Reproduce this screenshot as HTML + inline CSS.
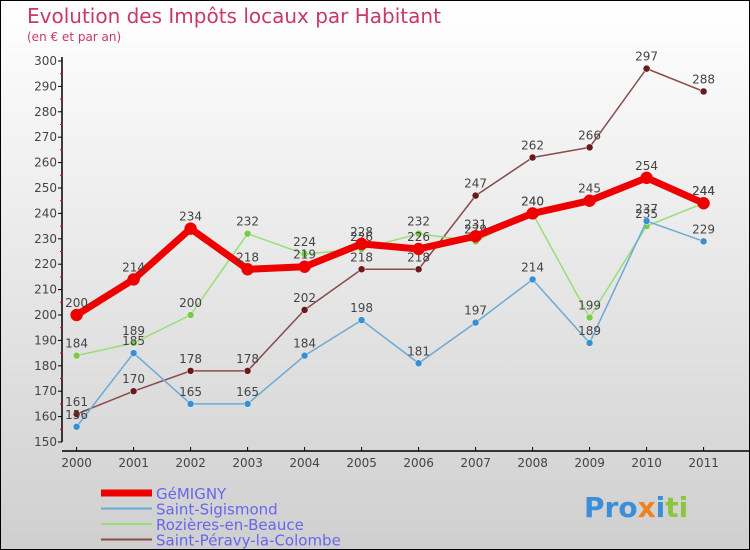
<!DOCTYPE html>
<html><head><meta charset="utf-8"><style>
body{margin:0}
#c{width:750px;height:550px;position:relative;box-sizing:border-box;border:1px solid #000;background:linear-gradient(#ffffff,#cfcfcf);font-family:"DejaVu Sans","Liberation Sans",sans-serif;overflow:hidden}
svg text{font-family:"DejaVu Sans","Liberation Sans",sans-serif}
</style></head><body>
<div id="c">
<svg id="s" width="750" height="550">
<text x="26" y="22" font-size="20" fill="#c8386a">Evolution des Impôts locaux par Habitant</text>
<text x="26" y="40" font-size="12" fill="#c8386a">(en € et par an)</text>
<g id="axes"></g><g id="series"></g><g id="legend"></g>
<text x="583" y="516" font-size="28" font-weight="bold"><tspan fill="#3a8fd8">Pro</tspan><tspan fill="#f08020">x</tspan><tspan fill="#3a8fd8">i</tspan><tspan fill="#8cc63f">ti</tspan></text>
</svg></div>
<script>
const years=[2000,2001,2002,2003,2004,2005,2006,2007,2008,2009,2010,2011];
const yTicks=[150,160,170,180,190,200,210,220,230,240,250,260,270,280,290,300];
const gemigny=[200,214,234,218,219,228,226,231,240,245,254,244];
const sigismond=[156,185,165,165,184,198,181,197,214,189,237,229];
const rozieres=[184,189,200,232,224,226,232,229,240,199,235,244];
const peravy=[161,170,178,178,202,218,218,247,262,266,297,288];
const NS="http://www.w3.org/2000/svg";
const xs=i=>75.6+i*57, ys=v=>60+(300-v)*2.54;
function mk(t,a,p){const e=document.createElementNS(NS,t);for(const k in a)e.setAttribute(k,a[k]);p.appendChild(e);return e;}
const ax=document.getElementById('axes');
let e=mk('line',{x1:61,y1:56,x2:61,y2:441,stroke:'#000','stroke-width':1.5},ax);


e=mk('line',{x1:61,y1:450,x2:750,y2:450,stroke:'#000','stroke-width':1.5},ax);


yTicks.forEach(v=>{const y=ys(v);mk('line',{x1:57,y1:y,x2:61,y2:y,stroke:'#000'},ax);
 if(v<300)mk('line',{x1:59,y1:y-12.7,x2:62,y2:y-12.7,stroke:'#e00'},ax);
 const t=mk('text',{x:56,y:y+4,'font-size':12,'text-anchor':'end',fill:'#444'},ax);t.textContent=v;
 
 });
years.forEach((yr,i)=>{const x=xs(i);mk('line',{x1:x,y1:446,x2:x,y2:450,stroke:'#000'},ax);
 const t=mk('text',{x:x,y:466,'font-size':12,'text-anchor':'middle',fill:'#444'},ax);t.textContent=yr;
 
 });
const series=[
 {n:'Saint-Péravy-la-Colombe',d:peravy,c:'#8b4a4a',m:'#6a1a1a',w:1.5,r:3.5},
 {n:'Rozières-en-Beauce',d:rozieres,c:'#99dd77',m:'#77cc44',w:1.5,r:3.5},
 {n:'Saint-Sigismond',d:sigismond,c:'#6aaad8',m:'#3a8fd0',w:1.5,r:3.5},
 {n:'GéMIGNY',d:gemigny,c:'#ee0000',m:'#ee0000',w:7,r:6}];
const sg=document.getElementById('series');
series.forEach(s=>{const g=mk('g',{},sg);
 
 
 const p=mk('polyline',{points:s.d.map((v,i)=>xs(i)+','+ys(v)).join(' '),fill:'none',stroke:s.c,'stroke-width':s.w,'stroke-linejoin':'round'},g);
 
 
 s.d.forEach((v,i)=>{const c=mk('circle',{cx:xs(i),cy:ys(v),r:s.r,fill:s.m,stroke:s.w>2?'#ee0000':'#fff','stroke-width':0.5},g);
  
  
  const t=mk('text',{x:xs(i),y:ys(v)-8,'font-size':12,'text-anchor':'middle',fill:'#444'},g);t.textContent=v;
  
  });});
const lg=document.getElementById('legend');
[series[3],series[2],series[1],series[0]].forEach((s,i)=>{const y=492+i*15.5;
 const g=mk('g',{},lg);
 
 
 mk('line',{x1:100,y1:y,x2:151,y2:y,stroke:s.c,'stroke-width':s.w>2?7:2},g);
 const t=mk('text',{x:155,y:y+6,'font-size':15,fill:'#6666ee'},g);t.textContent=s.n;});
</script></body></html>
